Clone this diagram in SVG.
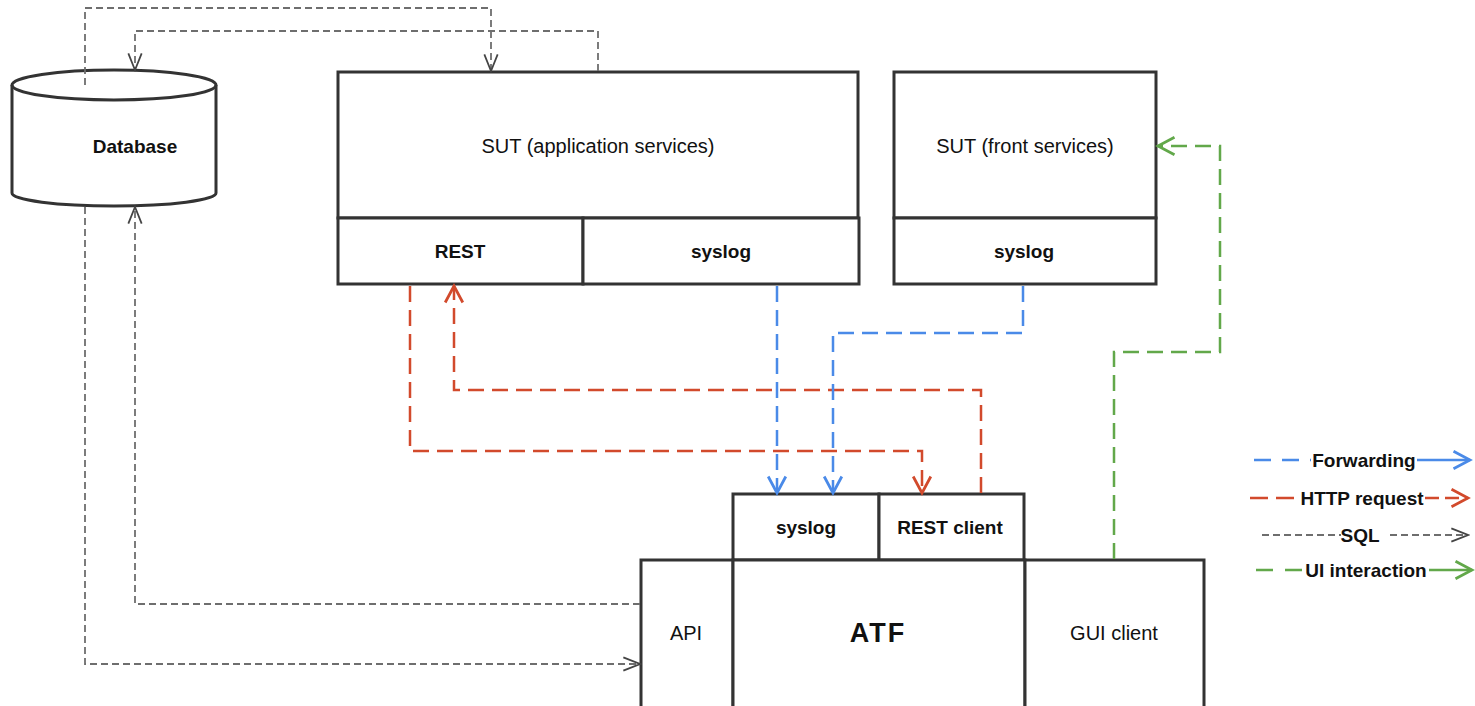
<svg xmlns="http://www.w3.org/2000/svg" width="1475" height="706" viewBox="0 0 1475 706">
<style>
.box{fill:#fff;stroke:#333;stroke-width:3}
.t{font-family:"Liberation Sans",Arial,sans-serif;font-size:20px;fill:#111;text-anchor:middle;dominant-baseline:central}
.b{font-weight:bold;font-size:19px}
.lg{font-family:"Liberation Sans",Arial,sans-serif;font-size:19px;font-weight:bold;fill:#111;text-anchor:middle;dominant-baseline:central}
.sql{fill:none;stroke:#6e6e6e;stroke-width:1.8;stroke-dasharray:7 4}
.fw{fill:none;stroke:#4a8ae8;stroke-width:2.5;stroke-dasharray:16 8}
.http{fill:none;stroke:#d24a2c;stroke-width:2.5;stroke-dasharray:16 8}
.ui{fill:none;stroke:#62a84a;stroke-width:2.5;stroke-dasharray:16 8}
</style>
<defs>
<marker id="aSql" markerUnits="userSpaceOnUse" markerWidth="20" markerHeight="20" viewBox="-16 -8 18 16" refX="0" refY="0" orient="auto"><path d="M-15,-6 L0,0 L-15,6" fill="none" stroke="#444" stroke-width="1.6"/></marker>
<marker id="aFw" markerUnits="userSpaceOnUse" markerWidth="22" markerHeight="22" viewBox="-17 -10 19 20" refX="0" refY="0" orient="auto"><path d="M-15,-8 L0,0 L-15,8" fill="none" stroke="#4a8ae8" stroke-width="2.5"/></marker>
<marker id="aHttp" markerUnits="userSpaceOnUse" markerWidth="22" markerHeight="22" viewBox="-17 -10 19 20" refX="0" refY="0" orient="auto"><path d="M-15,-8 L0,0 L-15,8" fill="none" stroke="#d24a2c" stroke-width="2.5"/></marker>
<marker id="aUi" markerUnits="userSpaceOnUse" markerWidth="22" markerHeight="22" viewBox="-17 -10 19 20" refX="0" refY="0" orient="auto"><path d="M-15,-8 L0,0 L-15,8" fill="none" stroke="#62a84a" stroke-width="2.5"/></marker>
</defs>
<rect width="1475" height="706" fill="#fff"/>

<g id="database">
<path class="box" d="M12,85 A102,15 0 0 1 216,85 L216,193 A102,13 0 0 1 12,193 Z"/>
<path d="M12,85 A102,15 0 0 0 216,85" fill="none" stroke="#333" stroke-width="3"/>
<text class="t b" x="135" y="146">Database</text>
</g>

<g id="sut-app">
<rect class="box" x="338" y="72" width="520" height="146"/>
<text class="t" x="598" y="146">SUT (application services)</text>
<rect class="box" x="338" y="218" width="245" height="66"/>
<text class="t b" x="460" y="251">REST</text>
<rect class="box" x="583" y="218" width="276" height="66"/>
<text class="t b" x="721" y="251">syslog</text>
</g>

<g id="sut-front">
<rect class="box" x="894" y="72" width="262" height="146"/>
<text class="t" x="1025" y="146">SUT (front services)</text>
<rect class="box" x="894" y="218" width="262" height="66"/>
<text class="t b" x="1024" y="251">syslog</text>
</g>

<g id="atf">
<rect class="box" x="733" y="494" width="146" height="66"/>
<text class="t b" x="806" y="527">syslog</text>
<rect class="box" x="879" y="494" width="145" height="66"/>
<text class="t b" x="950" y="527">REST client</text>
<rect class="box" x="641" y="560" width="92" height="150"/>
<text class="t" x="686" y="633">API</text>
<rect class="box" x="733" y="560" width="292" height="150"/>
<text class="t" x="878" y="633" style="font-weight:bold;font-size:27px;letter-spacing:2px">ATF</text>
<rect class="box" x="1025" y="560" width="179" height="150"/>
<text class="t" x="1114" y="633">GUI client</text>
</g>

<g id="connectors">
<path class="sql" d="M85,85 L85,8 L491,8 L491,71" marker-end="url(#aSql)"/>
<path class="sql" d="M598,71 L598,31 L135,31 L135,70" marker-end="url(#aSql)"/>
<path class="sql" d="M640,604 L135,604 L135,207" marker-end="url(#aSql)"/>
<path class="sql" d="M85,207 L85,664 L640,664" marker-end="url(#aSql)"/>
<path class="http" d="M410,286 L410,451 L922,451 L922,493" marker-end="url(#aHttp)"/>
<path class="http" d="M981,493 L981,390 L454,390 L454,286" marker-end="url(#aHttp)"/>
<path class="fw" d="M777,286 L777,493" marker-end="url(#aFw)"/>
<path class="fw" d="M1023,286 L1023,333 L833,333 L833,493" marker-end="url(#aFw)"/>
<path class="ui" d="M1114,559 L1114,352 L1220,352 L1220,146 L1158,146" marker-end="url(#aUi)"/>
</g>

<g id="legend">
<path class="fw" d="M1254,460 L1311,460" style="stroke-dasharray:17 11"/>
<text class="lg" x="1364" y="460">Forwarding</text>
<path class="fw" d="M1417,460 L1470,460" style="stroke-dasharray:none" marker-end="url(#aFw)"/>
<path class="http" d="M1250,498 L1300,498" style="stroke-dasharray:18 8"/>
<text class="lg" x="1362" y="498">HTTP request</text>
<path class="http" d="M1425,498 L1468,498" style="stroke-dasharray:14 6" marker-end="url(#aHttp)"/>
<path class="sql" d="M1262,535 L1341,535"/>
<text class="lg" x="1360" y="535">SQL</text>
<path class="sql" d="M1390,535 L1468,535" marker-end="url(#aSql)"/>
<path class="ui" d="M1256,570 L1304,570" style="stroke-dasharray:17 12"/>
<text class="lg" x="1366" y="570">UI interaction</text>
<path class="ui" d="M1429,570 L1472,570" style="stroke-dasharray:none" marker-end="url(#aUi)"/>
</g>
</svg>
